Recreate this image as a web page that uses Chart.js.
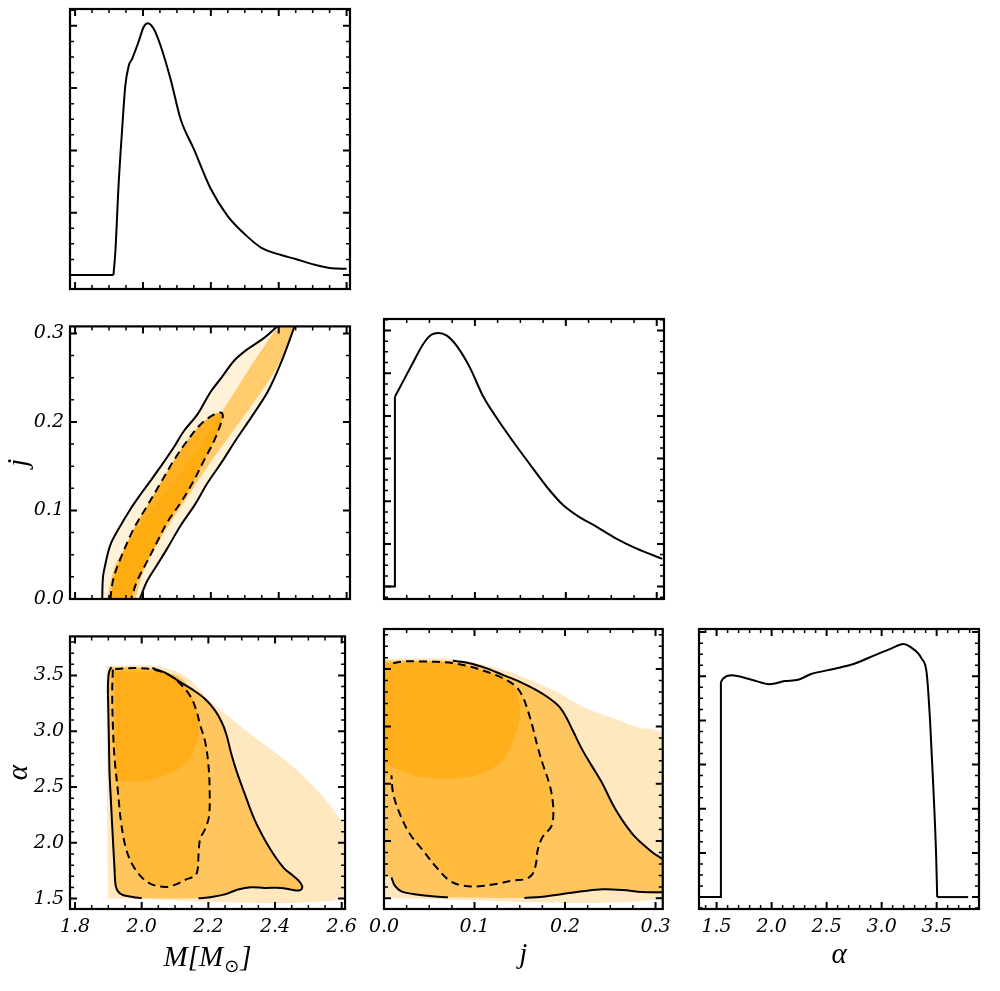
<!DOCTYPE html>
<html>
<head>
<meta charset="utf-8">
<script src="https://cdn.jsdelivr.net/npm/chart.js@4.4.1/dist/chart.umd.min.js"></script>
<style>
  body { margin: 0; background: #fff; }
  #wrap { position: relative; width: 1000px; height: 991px; overflow: hidden; }
  canvas { position: absolute; }
</style>
</head>
<body>
<div id="wrap"></div>
<script>
// tick labels
const mTicks = [1.8, 2.0, 2.2, 2.4, 2.6];
const jTicks = [0.0, 0.1, 0.2, 0.3];
const aTicks = [1.5, 2.0, 2.5, 3.0, 3.5];
const densTicksM = [0, 1, 2, 3, 4];
const densTicksJ = [0, 1, 2, 3, 4, 5, 6];
const densTicksA = [0, 1, 2, 3, 4, 5, 6];

// 1D marginals
const mPdfX = [1.800, 1.913, 1.9185, 1.928, 1.938, 1.948, 1.958, 1.968, 1.988, 2.002, 2.014, 2.032, 2.052, 2.081, 2.111, 2.150, 2.200, 2.249, 2.299, 2.348, 2.407, 2.447, 2.506, 2.556, 2.600];
const mPdfY = [0, 0, 0.36, 1.43, 2.29, 3.04, 3.36, 3.47, 3.76, 3.98, 4.04, 3.95, 3.68, 3.15, 2.50, 2.02, 1.38, 0.95, 0.66, 0.44, 0.32, 0.26, 0.165, 0.11, 0.10];

const jPdfX = [0.0, 0.012, 0.012, 0.022, 0.032, 0.043, 0.052, 0.060, 0.069, 0.080, 0.0945, 0.109, 0.124, 0.142, 0.161, 0.179, 0.197, 0.212, 0.234, 0.256, 0.278, 0.306];
const jPdfY = [0, 0, 4.45, 4.85, 5.25, 5.68, 5.90, 5.94, 5.88, 5.64, 5.13, 4.46, 3.95, 3.40, 2.85, 2.34, 1.91, 1.67, 1.40, 1.12, 0.89, 0.65];

const aPdfX = [1.378, 1.539, 1.539, 1.56, 1.636, 1.818, 1.985, 2.12, 2.24, 2.36, 2.575, 2.757, 2.94, 3.09, 3.196, 3.257, 3.364, 3.41, 3.44, 3.47, 3.495, 3.505, 3.787];
const aPdfY = [0, 0, 4.87, 4.95, 5.02, 4.92, 4.82, 4.89, 4.92, 5.05, 5.17, 5.29, 5.48, 5.63, 5.73, 5.67, 5.40, 5.06, 4.0, 2.48, 0.97, 0, 0];

// M - j contours [M, j]
const mjSolidLeft = [[2.3956,0.3082],[2.358,0.2953],[2.3086,0.2824],[2.2691,0.2695],[2.2296,0.2492],[2.2,0.2344],[2.1605,0.2086],[2.121,0.1901],[2.0914,0.1717],[2.0519,0.1495],[2.0173,0.131],[1.9926,0.1181],[1.963,0.1015],[1.9284,0.0794],[1.9037,0.0609],[1.8889,0.0388],[1.882,0.024],[1.88,0]];
const mjSolidRight = [[1.9906,0],[2.0123,0.0203],[2.042,0.0388],[2.0716,0.0572],[2.1111,0.0831],[2.1506,0.1052],[2.1901,0.131],[2.2296,0.1532],[2.279,0.1827],[2.3185,0.2049],[2.3679,0.2344],[2.4074,0.2676],[2.4469,0.3082]];
const mjDashed = [[1.9037,0],[1.9136,0.024],[1.9383,0.0498],[1.9728,0.0794],[2.0123,0.1052],[2.0519,0.131],[2.0914,0.1569],[2.1309,0.179],[2.1704,0.1975],[2.2099,0.2086],[2.2316,0.2104],[2.2346,0.2049],[2.2099,0.179],[2.1802,0.1569],[2.1457,0.131],[2.1111,0.1089],[2.0716,0.0867],[2.042,0.0646],[2.0123,0.0425],[1.9827,0.0203],[1.9649,0]];
const mjBand = [[1.8938,0],[1.9185,0.0388],[1.9728,0.072],[2.0519,0.1126],[2.1309,0.1532],[2.2099,0.1975],[2.2889,0.2455],[2.358,0.2861],[2.4025,0.3082],[2.4449,0.3082],[2.3975,0.2639],[2.3284,0.2233],[2.2593,0.1864],[2.1901,0.1495],[2.121,0.1089],[2.0519,0.0683],[2.0025,0.0314],[1.9778,0]];

// M - alpha contours [M, alpha]
const maSolidLeft = [[2.0,1.503],[1.9728,1.5146],[1.9432,1.5321],[1.9284,1.5671],[1.9215,1.6255],[1.9185,1.7715],[1.9136,2.0341],[1.9086,2.326],[1.9037,2.6179],[1.9017,2.9098],[1.8998,3.2017],[1.8988,3.406],[1.9017,3.5228],[1.9086,3.5753]];
const maSolidRight = [[2.0321,3.5666],[2.0716,3.5228],[2.1111,3.4498],[2.1506,3.3768],[2.1901,3.2893],[2.2198,3.1871],[2.2395,3.085],[2.2543,2.9682],[2.2691,2.7931],[2.284,2.6471],[2.3086,2.4428],[2.3383,2.2093],[2.3679,2.0342],[2.3975,1.8882],[2.4272,1.7715],[2.4568,1.6985],[2.4765,1.6401],[2.4815,1.5963],[2.4716,1.573],[2.4469,1.5817],[2.4173,1.5963],[2.3679,1.5963],[2.3284,1.6022],[2.2889,1.5817],[2.2494,1.5379],[2.2099,1.5146],[2.1704,1.5029]];
const maDashed = [[1.9136,3.552],[1.9116,3.3477],[1.9136,3.0558],[1.9185,2.7639],[1.9284,2.472],[1.9383,2.1801],[1.9531,1.9466],[1.9728,1.8006],[2.0025,1.6839],[2.0321,1.6255],[2.0716,1.6051],[2.1012,1.6255],[2.1309,1.6693],[2.1605,1.7072],[2.1684,1.7715],[2.1704,1.8882],[2.1753,2.0342],[2.1901,2.1217],[2.202,2.2385],[2.2039,2.472],[2.2,2.7055],[2.1901,2.9098],[2.1753,3.0558],[2.1654,3.1725],[2.1506,3.2893],[2.1309,3.3768],[2.1012,3.4644],[2.0716,3.52],[2.0321,3.555],[1.9926,3.5653],[1.9531,3.5646],[1.9235,3.5578],[1.9136,3.552]];
const maScatterEdge = [[1.8938,3.587],[2.042,3.587],[2.1309,3.4936],[2.2099,3.26],[2.2691,3.1141],[2.3284,2.9682],[2.4074,2.7931],[2.4667,2.6471],[2.5259,2.472],[2.5753,2.2968],[2.61,2.1217],[2.61,1.5],[1.8988,1.5]];
const maScatterCore = [[1.9185,3.5374],[2.1111,3.4936],[2.1605,3.2309],[2.1704,2.9682],[2.1309,2.7055],[2.0222,2.5595],[1.9235,2.5595]];

// j - alpha contours [j, alpha]
const jaSolidTop = [[0.0761,3.5724],[0.0945,3.552],[0.1128,3.5082],[0.1312,3.4498],[0.1496,3.3914],[0.1679,3.3184],[0.1826,3.2455],[0.1936,3.1725],[0.201,3.0849],[0.2083,2.9682],[0.2193,2.7931],[0.2303,2.6471],[0.2413,2.5012],[0.2523,2.326],[0.2634,2.1801],[0.2744,2.0633],[0.2854,1.9758],[0.2964,1.9028],[0.3074,1.8444]];
const jaSolidLow1 = [[0.0082,1.6839],[0.0119,1.6109],[0.0192,1.5613],[0.0321,1.5379],[0.0504,1.5204],[0.0706,1.5088]];
const jaSolidLow2 = [[0.1551,1.5029],[0.1753,1.5146],[0.1973,1.5379],[0.2194,1.5613],[0.2414,1.5788],[0.2634,1.573],[0.2854,1.5555],[0.3074,1.5525]];
const jaDashed = [[0.0101,3.552],[0.0211,3.5666],[0.0395,3.5666],[0.0578,3.5636],[0.0761,3.552],[0.0945,3.5228],[0.1128,3.479],[0.1312,3.4206],[0.1459,3.3476],[0.1533,3.26],[0.1587,3.1433],[0.1642,2.9974],[0.1697,2.8222],[0.1752,2.6763],[0.1826,2.5012],[0.1863,2.3552],[0.187,2.2093],[0.1845,2.1217],[0.1752,2.0342],[0.1697,1.9174],[0.1679,1.8006],[0.1642,1.7131],[0.1569,1.6693],[0.1422,1.6547],[0.1239,1.6255],[0.1055,1.6051],[0.0871,1.6109],[0.0725,1.6547],[0.0578,1.7715],[0.0431,1.9174],[0.0284,2.0633],[0.0174,2.2385],[0.0101,2.4136],[0.0082,2.5741]];
const jaScatterEdge = [[0,3.587],[0.0761,3.587],[0.1312,3.4936],[0.19,3.3039],[0.2193,3.1725],[0.2487,3.085],[0.278,2.9974],[0.3074,2.9244],[0.3074,1.5],[0,1.5]];
const jaScatterCore = [[0,3.552],[0.0761,3.552],[0.1312,3.4206],[0.1459,3.3184],[0.1496,3.0558],[0.1312,2.7055],[0.0945,2.5595],[0.0395,2.5595],[0,2.6763]];

const xy = arr => arr.map(p => ({x: p[0], y: p[1]}));
const pdf = (xs, ys) => xs.map((x, i) => ({x, y: ys[i]}));

const tickFont = {family: "'DejaVu Serif'", style: 'italic', size: 19};
const titleFont = {family: "'Liberation Serif'", style: 'italic', size: 29};

// frame with inward major/minor ticks on all four sides
const frameTicks = {
  id: 'frameTicks',
  afterDraw(chart, args, opts) {
    const {ctx, chartArea: a, scales} = chart;
    ctx.save();
    ctx.strokeStyle = '#000';
    const mark = (scale, div, horiz) => {
      const vals = scale.ticks.map(t => t.value);
      const step = vals[1] - vals[0];
      for (let i = -1; i < vals.length; i++) {
        for (let k = 0; k < div; k++) {
          const v = vals[0] + i * step + k * step / div;
          if (v < scale.min - 1e-9 || v > scale.max + 1e-9) continue;
          const major = k === 0;
          const len = major ? 7 : 4;
          ctx.lineWidth = major ? 2 : 1.5;
          const p = scale.getPixelForValue(v);
          ctx.beginPath();
          if (horiz) {
            ctx.moveTo(p, a.bottom); ctx.lineTo(p, a.bottom - len);
            ctx.moveTo(p, a.top); ctx.lineTo(p, a.top + len);
          } else {
            ctx.moveTo(a.left, p); ctx.lineTo(a.left + len, p);
            ctx.moveTo(a.right, p); ctx.lineTo(a.right - len, p);
          }
          ctx.stroke();
        }
      }
    };
    mark(scales.x, opts.xDiv, true);
    mark(scales.y, opts.yDiv, false);
    ctx.lineWidth = 2.2;
    ctx.strokeRect(a.left, a.top, a.right - a.left, a.bottom - a.top);

    // x title with a subscript part, e.g. M[M_sun]
    if (opts.subTitle) {
      const [main, sub, tail] = opts.subTitle;
      const big = "italic 29px 'Liberation Serif'";
      const small = "18px 'DejaVu Sans'";
      ctx.fillStyle = '#000';
      ctx.textBaseline = 'alphabetic';
      ctx.font = big; const w1 = ctx.measureText(main).width, w3 = ctx.measureText(tail).width;
      ctx.font = small; const w2 = ctx.measureText(sub).width;
      let x = (a.left + a.right) / 2 - (w1 + w2 + w3 + 2) / 2;
      const yb = a.bottom + 57;
      ctx.font = big; ctx.textAlign = 'left'; ctx.fillText(main, x, yb); x += w1 + 1;
      ctx.font = small; ctx.fillText(sub, x, yb + 6); x += w2 + 1;
      ctx.font = big; ctx.fillText(tail, x, yb);
    }
    ctx.restore();
  }
};

function axis(min, max, ticks, labels, title, horiz) {
  return {
    type: 'linear', min, max,
    afterBuildTicks: s => { s.ticks = ticks.map(v => ({value: v})); },
    afterFit: s => { if (horiz) s.height = 80; else s.width = 70; },
    grid: {display: false, drawTicks: false},
    border: {display: false},
    ticks: {display: labels, padding: horiz ? 7 : 6, color: '#000', font: tickFont,
            autoSkip: false, maxRotation: 0, callback: v => v.toFixed(1)},
    title: {display: !!title, text: title || '', color: '#000', font: titleFont,
            padding: horiz ? {top: 0, bottom: 16} : {top: 2, bottom: 0}}
  };
}

function fillSet(arr, alpha) {
  return {data: xy(arr), showLine: true, fill: 'shape', backgroundColor: 'rgba(255,165,0,' + alpha + ')',
          borderWidth: 0, pointRadius: 0, tension: 0.3, order: 5};
}
function lineSet(arr, dashed) {
  return {data: xy(arr), showLine: true, fill: false, borderColor: '#000', borderWidth: 2,
          borderDash: dashed ? [8, 5] : [], pointRadius: 0, tension: 0.35, order: 1};
}
// straight pieces (baseline, vertical step) and smooth pieces of a marginal
function pdfSet(data, smooth) {
  return {data, showLine: true, fill: false, borderColor: '#000', borderWidth: 2,
          pointRadius: 0, tension: 0, cubicInterpolationMode: smooth ? 'monotone' : 'default', order: 1};
}

function panel(frameLeft, frameTop, datasets, xScale, yScale, xDiv, yDiv, subTitle) {
  const c = document.createElement('canvas');
  c.width = 364; c.height = 370;
  c.style.left = (frameLeft - 70) + 'px';
  c.style.top = (frameTop - 10) + 'px';
  document.getElementById('wrap').appendChild(c);
  new Chart(c, {
    type: 'scatter',
    data: {datasets},
    options: {
      responsive: false, animation: false, devicePixelRatio: 1,
      layout: {padding: {top: 10, right: 14, left: 0, bottom: 0}},
      plugins: {legend: {display: false}, tooltip: {enabled: false}, frameTicks: {xDiv, yDiv, subTitle}},
      scales: {x: xScale, y: yScale}
    },
    plugins: [frameTicks]
  });
}

const mMin = 1.785, mMax = 2.61, jMin = 0, jMax = 0.308, aMin = 1.407, aMax = 3.85;

// top-left: M marginal
const mPdf = pdf(mPdfX, mPdfY);
panel(70, 9, [pdfSet(mPdf.slice(0, 2), false), pdfSet(mPdf.slice(1), true)],
  axis(mMin, mMax, mTicks, false, null, true),
  axis(-0.225, 4.27, densTicksM, false, null, false), 4, 4);

// middle-left: M vs j
panel(70, 319, [
    fillSet(mjSolidLeft.concat(mjSolidRight), 0.15),
    fillSet(mjBand, 0.5),
    fillSet(mjDashed, 0.85),
    lineSet(mjSolidLeft, false), lineSet(mjSolidRight, false), lineSet(mjDashed, true)],
  axis(mMin, mMax, mTicks, false, null, true),
  axis(jMin, jMax, jTicks, true, 'j', false), 4, 4);

// middle: j marginal
const jPdf = pdf(jPdfX, jPdfY);
panel(384, 319, [pdfSet(jPdf.slice(0, 3), false), pdfSet(jPdf.slice(2), true)],
  axis(jMin, jMax, jTicks, false, null, true),
  axis(-0.29, 6.27, densTicksJ, false, null, false), 4, 4);

// bottom-left: M vs alpha
panel(70, 629, [
    fillSet(maScatterEdge, 0.25),
    fillSet(maSolidRight.concat(maSolidLeft), 0.5),
    fillSet(maDashed, 0.4),
    fillSet(maScatterCore, 0.55),
    lineSet(maSolidLeft, false), lineSet(maSolidRight, false), lineSet(maDashed, true)],
  axis(mMin, mMax, mTicks, true, null, true),
  axis(aMin, aMax, aTicks, true, '\u03b1', false), 4, 5, ['M[M', '\u2299', ']']);

// bottom-middle: j vs alpha
panel(384, 629, [
    fillSet(jaScatterEdge, 0.25),
    fillSet([[0, 3.575]].concat(jaSolidTop, jaSolidLow2.slice().reverse(), jaSolidLow1.slice().reverse(), [[0, 1.69]]), 0.5),
    fillSet(jaDashed.concat([[0, 2.5741], [0, 3.552]]), 0.35),
    fillSet(jaScatterCore, 0.55),
    lineSet(jaSolidTop, false), lineSet(jaSolidLow1, false), lineSet(jaSolidLow2, false), lineSet(jaDashed, true)],
  axis(jMin, jMax, jTicks, true, 'j', true),
  axis(aMin, aMax, aTicks, false, null, false), 4, 5);

// bottom-right: alpha marginal
const aPdf = pdf(aPdfX, aPdfY);
panel(699, 629, [pdfSet(aPdf.slice(0, 3), false), pdfSet(aPdf.slice(2, 22), true), pdfSet(aPdf.slice(21), false)],
  axis(1.34, 3.885, aTicks, true, '\u03b1', true),
  axis(-0.27, 6.07, densTicksA, false, null, false), 5, 4);
</script>
</body>
</html>
